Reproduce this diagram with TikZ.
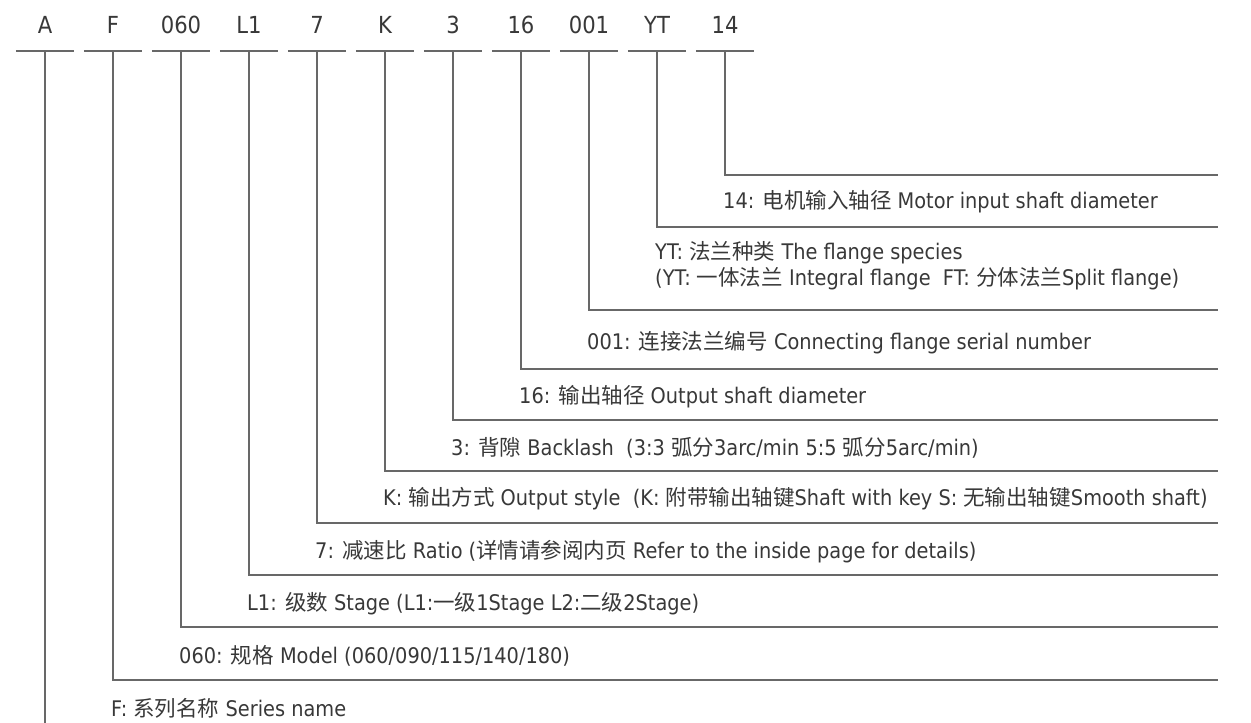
\documentclass[tikz,border=0pt]{standalone}
\usepackage{fontspec}
\setmainfont[FakeStretch=0.9]{DejaVu Sans}
\newfontfamily\cjk{Noto Sans CJK SC}
\definecolor{linegray}{HTML}{686868}
\definecolor{textgray}{HTML}{383838}
\newcommand{\zh}[1]{{\cjk\fontsize{21.5}{26}\selectfont #1}}
\tikzset{
	code/.style={minimum width=58pt, minimum height=52pt, inner sep=0pt, text=textgray, font=\fontsize{23.5}{28}\selectfont},
	note/.style={anchor=west, inner sep=0pt, text=textgray, font=\fontsize{21.5}{26}\selectfont},
	bar/.style={draw=linegray, line width=2pt}
	}

\begin{document}
\begin{tikzpicture}[x=1pt, y=-1pt]
	\useasboundingbox (0,0) rectangle (1251,723);

	% code letters on top
	\node[code] (A) at (45,25) {A};
	\node[code] (F) at (113,25) {F};
	\node[code] (M) at (181,25) {060};
	\node[code] (L) at (249,25) {L1};
	\node[code] (R) at (317,25) {7};
	\node[code] (K) at (385,25) {K};
	\node[code] (B) at (453,25) {3};
	\node[code] (D) at (521,25) {16};
	\node[code] (C) at (589,25) {001};
	\node[code] (Y) at (657,25) {YT};
	\node[code] (S) at (725,25) {14};

	% underlines
	\foreach \n in {A,F,M,L,R,K,B,D,C,Y,S}
		\draw[bar] (\n.south west) -- (\n.south east);

	% right ends of the brackets
	\coordinate (endS) at (1218,175);
	\coordinate (endY) at (1218,227);
	\coordinate (endC) at (1218,310);
	\coordinate (endD) at (1218,369);
	\coordinate (endB) at (1218,420);
	\coordinate (endK) at (1218,471);
	\coordinate (endR) at (1218,523);
	\coordinate (endL) at (1218,575);
	\coordinate (endM) at (1218,627);
	\coordinate (endF) at (1218,680);
	\coordinate (endA) at (45,723);

	% brackets
	\draw[bar] (S.south) |- (endS);
	\draw[bar] (Y.south) |- (endY);
	\draw[bar] (C.south) |- (endC);
	\draw[bar] (D.south) |- (endD);
	\draw[bar] (B.south) |- (endB);
	\draw[bar] (K.south) |- (endK);
	\draw[bar] (R.south) |- (endR);
	\draw[bar] (L.south) |- (endL);
	\draw[bar] (M.south) |- (endM);
	\draw[bar] (F.south) |- (endF);
	\draw[bar] (A.south) -- (endA);

	% meanings
	\node[note] (tS) at (723,202) {14: \zh{电机输入轴径} Motor input shaft diameter};
	\node[note, align=left] (tY) at (655,266) {YT: \zh{法兰种类} The flange species\\(YT: \zh{一体法兰} Integral flange\ \ FT: \zh{分体法兰}Split flange)};
	\node[note] (tC) at (587,343) {001: \zh{连接法兰编号} Connecting flange serial number};
	\node[note] (tD) at (519,397) {16: \zh{输出轴径} Output shaft diameter};
	\node[note] (tB) at (451,448) {3: \zh{背隙} Backlash\ \ (3:3 \zh{弧分}3arc/min 5:5 \zh{弧分}5arc/min)};
	\node[note] (tK) at (383,499) {K: \zh{输出方式} Output style\ \ (K: \zh{附带输出轴键}Shaft with key S: \zh{无输出轴键}Smooth shaft)};
	\node[note] (tR) at (315,552) {7: \zh{减速比} Ratio (\zh{详情请参阅内页} Refer to the inside page for details)};
	\node[note] (tL) at (247,604) {L1: \zh{级数} Stage (L1:\zh{一级}1Stage L2:\zh{二级}2Stage)};
	\node[note] (tM) at (179,656) {060: \zh{规格} Model (060/090/115/140/180)};
	\node[note] (tF) at (111,708) {F: \zh{系列名称} Series name};

\end{tikzpicture}
\end{document}
